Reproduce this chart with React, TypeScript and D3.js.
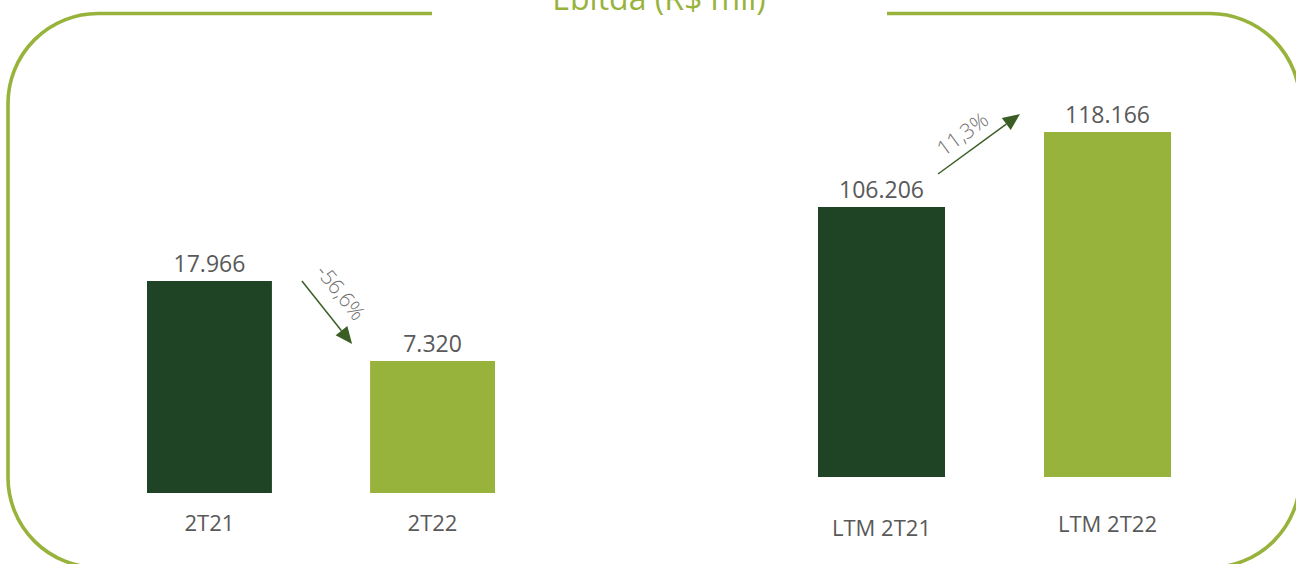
import * as React from 'react';
import * as d3 from 'd3';

// quarter comparison (R$ mil)
const quarterCats = ['2T21', '2T22'];
const quarterValues = [17966, 7320];
const quarterLabels = ['17.966', '7.320'];
const quarterChange = '-56,6%';

// last twelve months comparison
const ltmCats = ['LTM 2T21', 'LTM 2T22'];
const ltmValues = [106206, 118166];
const ltmLabels = ['106.206', '118.166'];
const ltmChange = '11,3%';

const title = 'Ebitda (R$ mil)';

const W = 1296;
const H = 564;
const DARK = '#1f4425';
const LIGHT = '#98b33b';
const ARROW = '#3b5e24';
const TXT = '#595959';
const FONT = "'Open Sans', 'Liberation Sans', sans-serif";

const App: React.FC = () => {
  const ref = React.useRef<SVGSVGElement>(null);

  React.useEffect(() => {
    const svg = d3.select(ref.current);
    svg.selectAll('*').remove();

    // frame
    svg.append('rect')
      .attr('x', 8).attr('y', 13.5)
      .attr('width', 1292).attr('height', 554)
      .attr('rx', 90).attr('ry', 90)
      .attr('fill', 'none')
      .attr('stroke', LIGHT)
      .attr('stroke-width', 3.6);
    svg.append('rect')
      .attr('x', 432).attr('y', 0)
      .attr('width', 455).attr('height', 22)
      .attr('fill', '#fff');
    svg.append('text')
      .attr('x', 659).attr('y', 10)
      .attr('text-anchor', 'middle')
      .attr('font-family', FONT)
      .attr('font-size', 32)
      .attr('fill', LIGHT)
      .text(title);

    // draw one group of two bars
    function group(cats: string[], vals: number[], labels: string[], xr: [number, number],
                   pad: number, y: d3.ScaleLinear<number, number>, catY: number[]) {
      const x = d3.scaleBand().domain(cats).range(xr).paddingInner(pad).paddingOuter(0);
      const g = svg.append('g');
      g.selectAll('rect.bar')
        .data(vals)
        .join('rect')
        .attr('class', 'bar')
        .attr('x', (_, i) => x(cats[i])!)
        .attr('width', x.bandwidth())
        .attr('y', d => y(d))
        .attr('height', d => y.range()[0] - y(d))
        .attr('fill', (_, i) => (i === 0 ? DARK : LIGHT));
      g.selectAll('text.val')
        .data(vals)
        .join('text')
        .attr('class', 'val')
        .attr('x', (_, i) => x(cats[i])! + x.bandwidth() / 2)
        .attr('y', d => y(d) - 9)
        .attr('text-anchor', 'middle')
        .attr('font-family', FONT)
        .attr('font-size', 23)
        .attr('fill', TXT)
        .text((_, i) => labels[i]);
      g.selectAll('text.cat')
        .data(cats)
        .join('text')
        .attr('class', 'cat')
        .attr('x', d => x(d)! + x.bandwidth() / 2)
        .attr('y', (_, i) => catY[i])
        .attr('text-anchor', 'middle')
        .attr('font-family', FONT)
        .attr('font-size', 22)
        .attr('fill', TXT)
        .text(d => d);
      return x;
    }

    function arrow(x1: number, y1: number, x2: number, y2: number, label: string, lx: number, ly: number) {
      const ang = Math.atan2(y2 - y1, x2 - x1);
      const len = 17, hw = 7.5;
      const bx = x2 - len * Math.cos(ang), by = y2 - len * Math.sin(ang);
      svg.append('line')
        .attr('x1', x1).attr('y1', y1).attr('x2', bx).attr('y2', by)
        .attr('stroke', ARROW).attr('stroke-width', 1.5);
      const px = -Math.sin(ang) * hw, py = Math.cos(ang) * hw;
      svg.append('path')
        .attr('d', `M${x2},${y2}L${bx + px},${by + py}L${bx - px},${by - py}Z`)
        .attr('fill', ARROW);
      const deg = (ang * 180) / Math.PI;
      svg.append('text')
        .attr('transform', `translate(${lx},${ly}) rotate(${deg})`)
        .attr('text-anchor', 'middle')
        .attr('font-family', FONT)
        .attr('font-weight', 300)
        .attr('font-size', 21)
        .attr('fill', '#6f6f6f')
        .text(label);
    }

    // left group: axis does not start at zero
    const yQ = d3.scaleLinear().domain([-10245, 17966]).range([493, 281]);
    const xQ = group(quarterCats, quarterValues, quarterLabels, [147, 495], 0.44, yQ, [531, 531]);
    const q1r = xQ(quarterCats[0])! + xQ.bandwidth();
    const q2l = xQ(quarterCats[1])!;
    arrow(q1r + 30, yQ(quarterValues[0]), q2l - 18, yQ(quarterValues[1]) - 17,
      quarterChange, q1r + 63, yQ(quarterValues[0]) + 16);

    // right group
    const yL = d3.scaleLinear().domain([63151, 106206]).range([477, 207]);
    const xL = group(ltmCats, ltmValues, ltmLabels, [818, 1171], 0.438, yL, [536, 532]);
    const l1r = xL(ltmCats[0])! + xL.bandwidth();
    const l2l = xL(ltmCats[1])!;
    arrow(l1r - 7, yL(ltmValues[0]) - 33, l2l - 24, yL(ltmValues[1]) - 18,
      ltmChange, l1r + 22, yL(ltmValues[0]) - 67);
  }, []);

  return (
    <svg ref={ref} width={W} height={H}
      style={{ position: 'absolute', left: 0, top: 0, background: '#fff' }} />
  );
};

export default App;
